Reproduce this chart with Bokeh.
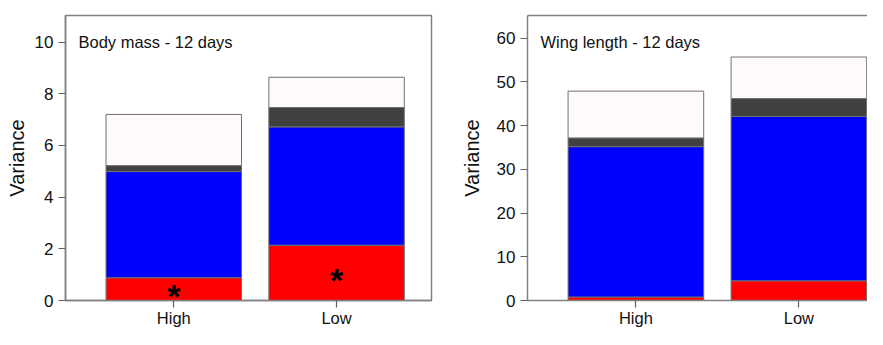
from bokeh.plotting import figure
from bokeh.models import ColumnDataSource, FixedTicker, LinearAxis, Range1d
from bokeh.layouts import row
from bokeh.embed import file_html
from bokeh.resources import INLINE
from bokeh.core.properties import value

# ---- data ----
groups = ["High", "Low"]
group_pos = [1, 2]
components = ["red", "blue", "dark", "white"]
colors = ["#ff0000", "#0000ff", "#404040", "#fffafa"]

# Body mass - 12 days (segment heights)
mass_red = [0.88, 2.14]
mass_blue = [4.11, 4.58]
mass_dark = [0.23, 0.75]
mass_white = [1.98, 1.17]
mass_star_y = [0.34, 0.93]

# Wing length - 12 days (segment heights)
wing_red = [0.8, 4.5]
wing_blue = [34.4, 37.6]
wing_dark = [2.0, 4.1]
wing_white = [10.7, 9.5]

mass_ticks = [0, 2, 4, 6, 8, 10]
wing_ticks = [0, 10, 20, 30, 40, 50, 60]
titles = ["Body mass - 12 days", "Wing length - 12 days"]

FONT = "Liberation Sans"
GRAY = "#808080"
BAR_W = 0.832
X_START = 0.335


def make_panel(title, red, blue, dark, white, yticks, y_end, x_end, width,
               left_border, right_border, label_standoff, full_outline, stars=None):
    p = figure(width=width, height=329, output_backend="svg", toolbar_location=None,
               x_range=Range1d(X_START, x_end), y_range=Range1d(0, y_end),
               min_border_left=left_border, min_border_right=right_border,
               min_border_top=15, min_border_bottom=0)
    p.background_fill_color = "white"
    p.border_fill_color = "white"
    p.grid.visible = False
    if full_outline:
        p.outline_line_color = GRAY
        p.outline_line_width = 1.5
    else:
        p.outline_line_color = None
        top = LinearAxis(ticker=FixedTicker(ticks=[]), major_label_text_font_size="0px",
                         major_label_standoff=0, major_tick_out=0, major_tick_in=0,
                         minor_tick_out=0, minor_tick_in=0,
                         axis_line_color=GRAY, axis_line_width=1.5)
        p.add_layout(top, "above")

    src = ColumnDataSource(dict(x=group_pos, red=red, blue=blue, dark=dark, white=white))
    p.vbar_stack(components, x="x", width=BAR_W, color=colors, source=src,
                 line_color="#707070", line_width=1)

    ya = p.left[0]
    ya.ticker = FixedTicker(ticks=yticks)
    ya.major_tick_out = 7
    ya.major_tick_in = 0
    ya.minor_tick_line_color = None
    ya.axis_line_color = GRAY
    ya.axis_line_width = 1.5
    ya.major_tick_line_color = "#606060"
    ya.major_tick_line_width = 1.2
    ya.major_label_text_font = FONT
    ya.major_label_text_font_size = "17px"
    ya.major_label_text_color = "#111111"
    ya.major_label_standoff = 5
    ya.axis_label = "Variance"
    ya.axis_label_text_font = FONT
    ya.axis_label_text_font_size = "20px"
    ya.axis_label_text_font_style = "normal"
    ya.axis_label_text_color = "#111111"
    ya.axis_label_standoff = label_standoff

    xa = p.below[0]
    xa.ticker = FixedTicker(ticks=group_pos)
    xa.major_label_overrides = {gx: name for gx, name in zip(group_pos, groups)}
    xa.major_tick_out = 7
    xa.major_tick_in = 0
    xa.minor_tick_line_color = None
    xa.axis_line_color = GRAY
    xa.axis_line_width = 1.5
    xa.major_tick_line_color = "#606060"
    xa.major_tick_line_width = 1.2
    xa.major_label_text_font = FONT
    xa.major_label_text_font_size = "16.5px"
    xa.major_label_text_color = "#111111"
    xa.major_label_standoff = 1

    tsrc = ColumnDataSource(dict(x=[X_START], y=[y_end], t=[title]))
    p.text(x="x", y="y", text="t", source=tsrc, x_offset=13, y_offset=26,
           text_align="left", text_baseline="alphabetic", text_font=value(FONT),
           text_font_size="16.5px", text_color="#111111")

    if stars is not None:
        ssrc = ColumnDataSource(dict(x=group_pos, y=stars, t=["*", "*"]))
        p.text(x="x", y="y", text="t", source=ssrc, text_align="center",
               text_baseline="middle", text_font=value(FONT), text_font_size="34px",
               text_font_style="bold", text_color="black", y_offset=4)
    return p


p1 = make_panel(titles[0], mass_red, mass_blue, mass_dark, mass_white,
                mass_ticks, 11.03, 2.583, 440, 65, 9, 4, True, stars=mass_star_y)
p2 = make_panel(titles[1], wing_red, wing_blue, wing_dark, wing_white,
                wing_ticks, 65.2, 2.421, 427, 87, 0, 11, False)

layout = row(p1, p2, spacing=0)
open("out.html", "w").write(file_html(layout, INLINE))
